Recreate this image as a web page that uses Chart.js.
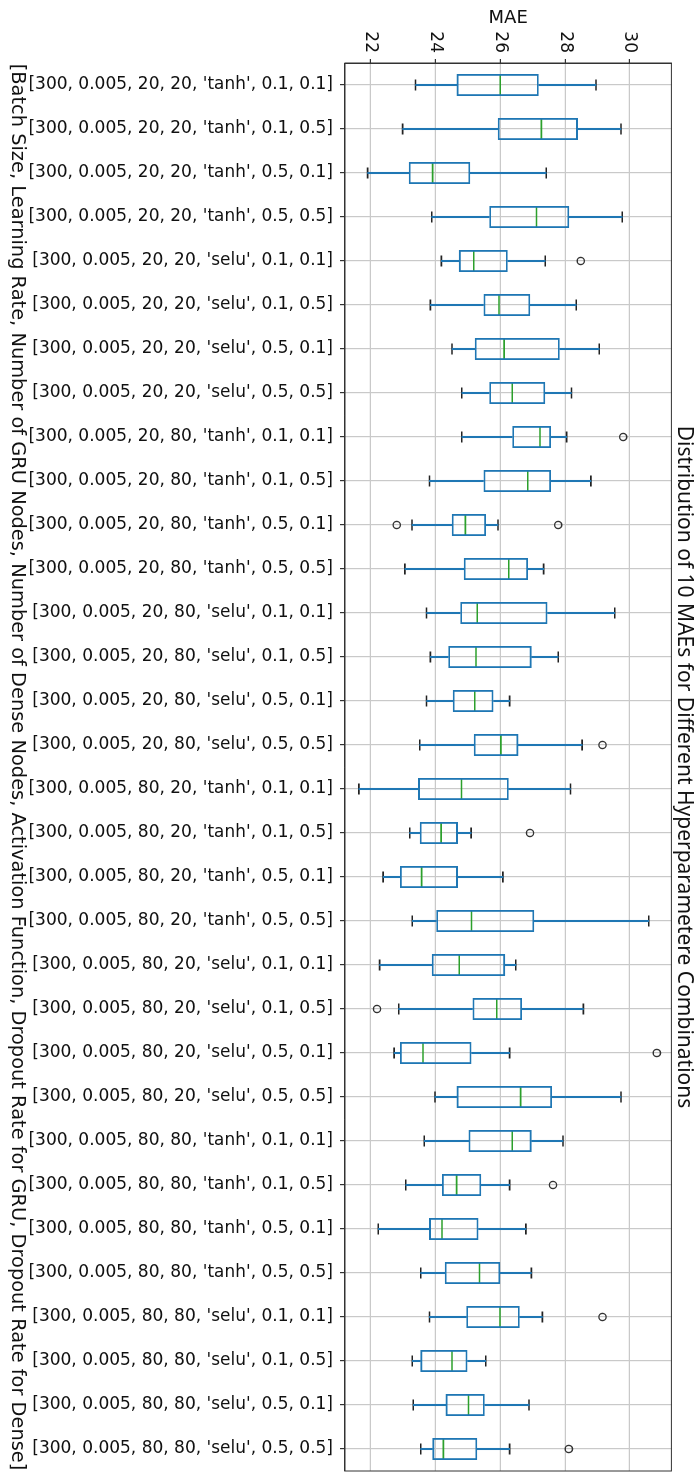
<!DOCTYPE html>
<html>
<head>
<meta charset="utf-8">
<title>MAE distribution per hyperparameter combination</title>
<script src="https://cdn.jsdelivr.net/npm/chart.js"></script>
<style>
  html, body { margin: 0; padding: 0; background: #fff; }
  body { width: 698px; height: 1472px; overflow: hidden; position: relative; }
  /* the figure is laid out landscape and turned a quarter clockwise */
  #wrap {
    position: absolute; left: 0; top: 0;
    width: 1472px; height: 698px;
    transform-origin: 0 0;
    transform: translateX(698px) rotate(90deg);
  }
</style>
</head>
<body>
<div id="wrap"><canvas id="maeChart" width="1472" height="698"></canvas></div>
<script>
// [Batch Size, Learning Rate, GRU nodes, Dense nodes, activation, dropout GRU, dropout Dense]
const categories = [
  "[300, 0.005, 20, 20, 'tanh', 0.1, 0.1]",
  "[300, 0.005, 20, 20, 'tanh', 0.1, 0.5]",
  "[300, 0.005, 20, 20, 'tanh', 0.5, 0.1]",
  "[300, 0.005, 20, 20, 'tanh', 0.5, 0.5]",
  "[300, 0.005, 20, 20, 'selu', 0.1, 0.1]",
  "[300, 0.005, 20, 20, 'selu', 0.1, 0.5]",
  "[300, 0.005, 20, 20, 'selu', 0.5, 0.1]",
  "[300, 0.005, 20, 20, 'selu', 0.5, 0.5]",
  "[300, 0.005, 20, 80, 'tanh', 0.1, 0.1]",
  "[300, 0.005, 20, 80, 'tanh', 0.1, 0.5]",
  "[300, 0.005, 20, 80, 'tanh', 0.5, 0.1]",
  "[300, 0.005, 20, 80, 'tanh', 0.5, 0.5]",
  "[300, 0.005, 20, 80, 'selu', 0.1, 0.1]",
  "[300, 0.005, 20, 80, 'selu', 0.1, 0.5]",
  "[300, 0.005, 20, 80, 'selu', 0.5, 0.1]",
  "[300, 0.005, 20, 80, 'selu', 0.5, 0.5]",
  "[300, 0.005, 80, 20, 'tanh', 0.1, 0.1]",
  "[300, 0.005, 80, 20, 'tanh', 0.1, 0.5]",
  "[300, 0.005, 80, 20, 'tanh', 0.5, 0.1]",
  "[300, 0.005, 80, 20, 'tanh', 0.5, 0.5]",
  "[300, 0.005, 80, 20, 'selu', 0.1, 0.1]",
  "[300, 0.005, 80, 20, 'selu', 0.1, 0.5]",
  "[300, 0.005, 80, 20, 'selu', 0.5, 0.1]",
  "[300, 0.005, 80, 20, 'selu', 0.5, 0.5]",
  "[300, 0.005, 80, 80, 'tanh', 0.1, 0.1]",
  "[300, 0.005, 80, 80, 'tanh', 0.1, 0.5]",
  "[300, 0.005, 80, 80, 'tanh', 0.5, 0.1]",
  "[300, 0.005, 80, 80, 'tanh', 0.5, 0.5]",
  "[300, 0.005, 80, 80, 'selu', 0.1, 0.1]",
  "[300, 0.005, 80, 80, 'selu', 0.1, 0.5]",
  "[300, 0.005, 80, 80, 'selu', 0.5, 0.1]",
  "[300, 0.005, 80, 80, 'selu', 0.5, 0.5]"
];

// box plot statistics of the 10 MAEs per combination
const whiskerLow = [23.38, 22.98, 21.90, 23.88, 24.18, 23.84, 24.51, 24.81,
                    24.81, 23.81, 23.27, 23.05, 23.72, 23.84, 23.72, 23.51,
                    21.63, 23.20, 22.38, 23.28, 22.27, 22.86, 22.72, 23.98,
                    23.65, 23.08, 22.23, 23.54, 23.81, 23.28, 23.31, 23.54];
const q1 =         [24.65, 25.92, 23.17, 25.66, 24.72, 25.48, 25.21, 25.66,
                    26.37, 25.48, 24.50, 24.87, 24.76, 24.39, 24.53, 25.18,
                    23.46, 23.51, 22.90, 24.02, 23.88, 25.14, 22.90, 24.65,
                    25.02, 24.20, 23.80, 24.28, 24.95, 23.53, 24.31, 23.90];
const median =     [26.00, 27.27, 23.91, 27.12, 25.18, 25.96, 26.12, 26.37,
                    27.23, 26.85, 24.92, 26.26, 25.29, 25.25, 25.21, 26.02,
                    24.80, 24.17, 23.57, 25.11, 24.73, 25.89, 23.61, 26.63,
                    26.37, 24.65, 24.20, 25.36, 25.99, 24.51, 25.02, 24.24];
const q3 =         [27.19, 28.40, 25.07, 28.13, 26.23, 26.93, 27.84, 27.39,
                    27.57, 27.57, 25.56, 26.86, 27.46, 26.97, 25.79, 26.56,
                    26.26, 24.69, 24.69, 27.05, 26.15, 26.67, 25.11, 27.60,
                    26.97, 25.41, 25.33, 26.00, 26.60, 24.99, 25.52, 25.29];
const whiskerHigh = [28.96, 29.73, 27.42, 29.77, 27.39, 28.35, 29.06, 28.20,
                     28.05, 28.80, 25.93, 27.34, 29.54, 27.79, 26.29, 28.53,
                     28.17, 25.10, 26.08, 30.59, 26.48, 28.57, 26.29, 29.73,
                     27.94, 26.29, 26.79, 26.96, 27.30, 25.55, 26.89, 26.29];
// [category index, MAE]
const outliers = [[4, 28.49], [8, 29.80], [10, 22.80], [10, 27.79], [15, 29.16],
                  [17, 26.92], [21, 22.19], [22, 30.84], [25, 27.63], [28, 29.16],
                  [31, 28.12]];
const maeTicks = [22, 24, 26, 28, 30];

const boxColor = "#1f77b4";
const medianColor = "#2ca02c";
const capColor = "#222222";
const gridColor = "#c9c9c9";
const spineColor = "#333333";

Chart.defaults.font.family = "'DejaVu Sans', sans-serif";
Chart.defaults.color = "#111";

// matplotlib-style closed frame around the axes
const frame = {
  id: "frame",
  afterDraw(chart) {
    const { ctx, chartArea: a } = chart;
    ctx.save();
    ctx.strokeStyle = spineColor;
    ctx.lineWidth = 1;
    ctx.strokeRect(a.left, a.top, a.right - a.left, a.bottom - a.top);
    ctx.restore();
  }
};

const range = (lo, hi) => lo.map((v, i) => [v, hi[i]]);
const markers = (values, radius, color) => ({
  type: "line",
  data: values,
  showLine: false,
  pointStyle: "line",
  pointRadius: radius,
  pointHoverRadius: radius,
  pointBorderColor: color,
  pointBorderWidth: 1.6
});

const ctx = document.getElementById("maeChart").getContext("2d");
new Chart(ctx, {
  type: "bar",
  data: {
    labels: categories,
    datasets: [
      {
        // whisker below the box
        data: range(whiskerLow, q1),
        backgroundColor: boxColor,
        barThickness: 1.4,
        grouped: false
      },
      {
        // whisker above the box
        data: range(q3, whiskerHigh),
        backgroundColor: boxColor,
        barThickness: 1.4,
        grouped: false
      },
      {
        // interquartile box
        data: range(q1, q3),
        backgroundColor: "rgba(0,0,0,0)",
        borderColor: boxColor,
        borderWidth: 1.8,
        borderSkipped: false,
        barPercentage: 0.5,
        categoryPercentage: 1,
        grouped: false
      },
      markers(median, 11, medianColor),
      markers(whiskerLow, 5.5, capColor),
      markers(whiskerHigh, 5.5, capColor),
      {
        type: "line",
        data: outliers.map(([i, v]) => ({ x: categories[i], y: v })),
        showLine: false,
        pointStyle: "circle",
        pointRadius: 3.6,
        pointHoverRadius: 3.6,
        pointBackgroundColor: "rgba(0,0,0,0)",
        pointBorderColor: "#333",
        pointBorderWidth: 1.4
      }
    ]
  },
  options: {
    responsive: false,
    animation: false,
    events: [],
    // the median/cap markers would otherwise pad the plot area
    layout: { autoPadding: false, padding: { left: 0, right: 1, top: 0, bottom: 0 } },
    plugins: {
      legend: { display: false },
      tooltip: { enabled: false },
      title: {
        display: true,
        fullSize: false,
        text: "Distribution of 10 MAEs for Different Hyperparametere Combinations",
        font: { family: "'Noto Sans', sans-serif", size: 21, weight: "normal" },
        color: "#111",
        padding: { top: 1.4, bottom: 0 }
      }
    },
    scales: {
      x: {
        offset: true,
        afterFit: s => {
          s.height = 345;
          s.paddingLeft = 0;
          s.paddingRight = 0;
        },
        grid: { offset: false, color: gridColor, lineWidth: 1.2, tickLength: 5, tickColor: spineColor },
        border: { color: spineColor, width: 1 },
        ticks: { autoSkip: false, minRotation: 90, maxRotation: 90, padding: 7, font: { size: 17 } },
        title: {
          display: true,
          text: "[Batch Size, Learning Rate, Number of GRU Nodes, Number of Dense Nodes, Activation Function, Dropout Rate for GRU, Dropout Rate for Dense]",
          font: { size: 19.4 },
          padding: { top: 0, bottom: 5.4 }
        }
      },
      y: {
        min: 21.2,
        max: 31.29,
        afterBuildTicks: s => { s.ticks = maeTicks.map(v => ({ value: v })); },
        afterFit: s => {
          s.width = 63;
          s.paddingTop = 0;
          s.paddingBottom = 0;
        },
        grid: { color: gridColor, lineWidth: 1.2, tickLength: 4, tickColor: spineColor },
        border: { color: spineColor, width: 1 },
        ticks: { padding: 6, font: { size: 17 } },
        title: { display: true, text: "MAE", font: { size: 18 }, padding: { top: 8, bottom: 0 } }
      }
    }
  },
  plugins: [frame]
});
</script>
</body>
</html>
